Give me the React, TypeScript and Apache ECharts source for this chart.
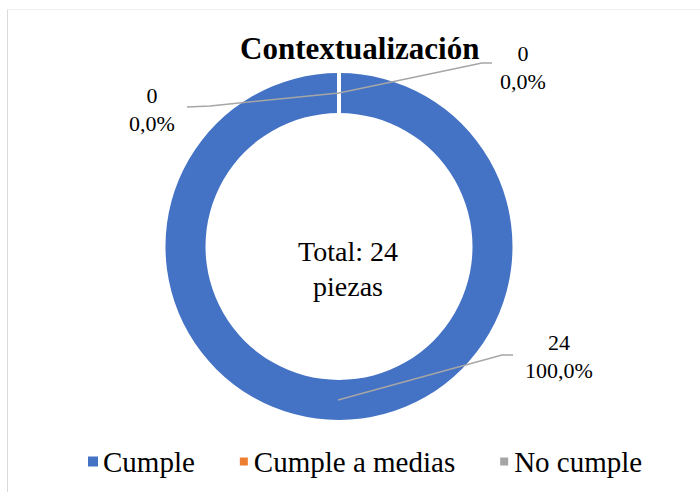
import React, { useEffect, useRef } from "react";
import * as echarts from "echarts";

const categories = ["Cumple", "Cumple a medias", "No cumple"];
const values = [24, 0, 0];
const colors = ["#4472C4", "#ED7D31", "#A5A5A5"];
const titleText = "Contextualización";
const unitText = "piezas";

const FONT = "Liberation Serif";

export default function App() {
  const ref = useRef<HTMLDivElement>(null);
  useEffect(() => {
    if (!ref.current) return;
    const chart = echarts.init(ref.current, undefined, { renderer: "svg" });
    const total = values.reduce((a, b) => a + b, 0);
    const labelPos: Record<number, { x: number; y: number }> = {
      0: { x: 559, y: 356 },
      1: { x: 152, y: 109 },
      2: { x: 523, y: 67 },
    };
    const leaderLines = [
      [[338, 400], [502, 355], [513, 355]],
      [[339, 93], [210, 106], [187, 107]],
      [[339, 93], [482, 63], [492, 63]],
    ];
    chart.setOption({
      animation: false,
      backgroundColor: "#ffffff",
      title: {
        text: titleText,
        left: 235,
        top: 28,
        textStyle: { fontFamily: FONT, fontSize: 31, fontWeight: "bold", color: "#000" },
      },
      legend: {
        data: categories,
        left: 83,
        top: 442,
        icon: "rect",
        itemWidth: 10,
        itemHeight: 10,
        itemGap: 43,
        textStyle: { fontFamily: FONT, fontSize: 29, color: "#000" },
      },
      graphic: [
        { type: "line", shape: { x1: 7.5, y1: 10, x2: 7.5, y2: 492 }, style: { stroke: "#d9d9d9", lineWidth: 1 } },
        { type: "line", shape: { x1: 7, y1: 9.5, x2: 700, y2: 9.5 }, style: { stroke: "#f0f0f0", lineWidth: 1 } },
        ...leaderLines.map((pts) => ({
          type: "polyline",
          shape: { points: pts },
          style: { stroke: "#A6A6A6", lineWidth: 1.5, fill: "none" },
          z: 10,
        })),
        {
          type: "text",
          x: 348,
          y: 269,
          style: {
            text: `Total: ${total}\n${unitText}`,
            font: `28px ${FONT}`,
            fill: "#000",
            align: "center",
            verticalAlign: "middle",
            lineHeight: 35,
          },
        },
      ],
      series: [
        {
          type: "pie",
          center: [339, 246.5],
          radius: [133.5, 173.5],
          startAngle: 90,
          clockwise: true,
          avoidLabelOverlap: false,
          data: categories.map((name, i) => ({
            name,
            value: values[i],
            itemStyle: {
              color: colors[i],
              borderColor: "#ffffff",
              borderWidth: values[i] === 0 ? 4 : 0,
            },
          })),
          label: {
            show: true,
            position: "outside",
            fontFamily: FONT,
            fontSize: 22,
            lineHeight: 28,
            color: "#000",
            formatter: (p: any) =>
              `${p.value}\n${Number(p.percent).toFixed(1).replace(".", ",")}%`,
          },
          labelLine: { show: false },
          labelLayout: (p: any) => {
            const l = labelPos[p.dataIndex];
            return { x: l.x, y: l.y, align: "center", verticalAlign: "middle" };
          },
        },
      ],
    });
    return () => chart.dispose();
  }, []);
  return (
    <div
      ref={ref}
      style={{ position: "fixed", left: 0, top: 0, width: 700, height: 492 }}
    />
  );
}
